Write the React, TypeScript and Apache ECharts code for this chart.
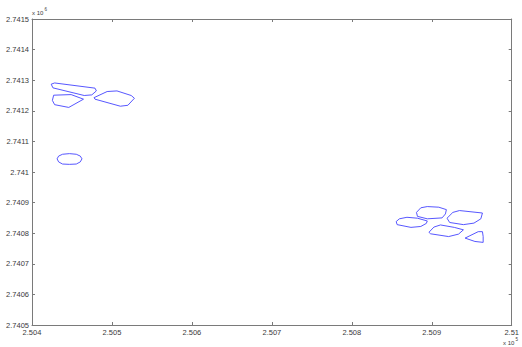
import React, { useEffect, useRef } from "react";
import * as echarts from "echarts";

// Axis ranges (x in units of 10^5, y in units of 10^6)
const xMin = 2.504;
const xMax = 2.51;
const xStep = 0.001;
const yMin = 2.7405;
const yMax = 2.7415;
const yStep = 0.0001;

const xTickLabels = ["2.504", "2.505", "2.506", "2.507", "2.508", "2.509", "2.51"];
const yTickLabels = [
  "2.7405", "2.7406", "2.7407", "2.7408", "2.7409", "2.741",
  "2.7411", "2.7412", "2.7413", "2.7414", "2.7415",
];

// Polygon outlines [x, y]
const polyA = [
  [2.50424, 2.741287], [2.504283, 2.741291], [2.504788, 2.741274], [2.504805, 2.741265],
  [2.504748, 2.741252], [2.504653, 2.74125], [2.504262, 2.741275], [2.50424, 2.741287],
];
const polyB = [
  [2.504271, 2.741251], [2.504489, 2.741253], [2.504644, 2.741238], [2.50446, 2.741211],
  [2.504283, 2.74122], [2.504255, 2.741234], [2.504271, 2.741251],
];
const polyC = [
  [2.504776, 2.741243], [2.50494, 2.741263], [2.505063, 2.741265], [2.505241, 2.74125],
  [2.505281, 2.741241], [2.505199, 2.741218], [2.505105, 2.741215], [2.504788, 2.741238],
  [2.504776, 2.741243],
];
const polyEll = [
  [2.504314, 2.741043], [2.504333, 2.741052], [2.504382, 2.741058], [2.504468, 2.74106],
  [2.504554, 2.741058], [2.504604, 2.741052], [2.504625, 2.741043], [2.504604, 2.741033],
  [2.504554, 2.741026], [2.504468, 2.741025], [2.504382, 2.741026], [2.504333, 2.741033],
  [2.504314, 2.741043],
];
const polyD = [
  [2.508555, 2.740838], [2.508595, 2.740847], [2.50869, 2.740852], [2.508821, 2.740849],
  [2.508944, 2.74084], [2.508932, 2.740832], [2.508863, 2.740822], [2.50874, 2.740819],
  [2.508567, 2.740828], [2.508555, 2.740838],
];
const polyE = [
  [2.508809, 2.740868], [2.508863, 2.740883], [2.508944, 2.740887], [2.509088, 2.740885],
  [2.509183, 2.740877], [2.509171, 2.740863], [2.509129, 2.74085], [2.508944, 2.740847],
  [2.508821, 2.740855], [2.508809, 2.740868],
];
const polyF = [
  [2.509191, 2.740849], [2.509264, 2.740868], [2.509347, 2.740874], [2.509634, 2.740866],
  [2.509614, 2.740847], [2.509528, 2.740833], [2.509396, 2.740828], [2.509224, 2.740835],
  [2.509191, 2.740849],
];
const polyG = [
  [2.508965, 2.740803], [2.509027, 2.74082], [2.509109, 2.740827], [2.509282, 2.740819],
  [2.509396, 2.740811], [2.509335, 2.740797], [2.509211, 2.740789], [2.508986, 2.740798],
  [2.508965, 2.740803],
];
const polyH = [
  [2.509417, 2.740784], [2.509581, 2.740805], [2.509634, 2.740805], [2.509643, 2.740789],
  [2.509643, 2.74077], [2.50954, 2.740773], [2.509417, 2.740784],
];

const polygons = [polyA, polyB, polyC, polyEll, polyD, polyE, polyF, polyG, polyH];

const FONT = "Liberation Sans";
const AXIS_COLOR = "#7a7a7a";
const TEXT_COLOR = "#3a3a3a";
const LINE_COLOR = "#4444ff";

export default function App() {
  const ref = useRef<HTMLDivElement>(null);

  useEffect(() => {
    if (!ref.current) return;
    const chart = echarts.init(ref.current, undefined, { renderer: "svg" });

    const xFmt = (v: number) => xTickLabels[Math.round((v - xMin) / xStep)] ?? "";
    const yFmt = (v: number) => yTickLabels[Math.round((v - yMin) / yStep)] ?? "";

    const axisCommon = {
      type: "value" as const,
      axisLine: { show: true, lineStyle: { color: AXIS_COLOR, width: 1 } },
      axisTick: { show: true, inside: true, length: 3, lineStyle: { color: AXIS_COLOR } },
      splitLine: { show: false },
    };

    chart.setOption({
      animation: false,
      backgroundColor: "#ffffff",
      grid: { left: 32, right: 3, top: 19, bottom: 22, containLabel: false },
      xAxis: [
        {
          ...axisCommon,
          position: "bottom",
          min: xMin,
          max: xMax,
          interval: xStep,
          axisLabel: {
            show: true,
            margin: 3,
            color: TEXT_COLOR,
            fontFamily: FONT,
            fontSize: 7.5,
            formatter: xFmt,
            showMinLabel: true,
            showMaxLabel: true,
          },
        },
        {
          ...axisCommon,
          position: "top",
          min: xMin,
          max: xMax,
          interval: xStep,
          axisLabel: { show: false },
        },
      ],
      yAxis: [
        {
          ...axisCommon,
          position: "left",
          min: yMin,
          max: yMax,
          interval: yStep,
          axisLabel: {
            show: true,
            margin: 3,
            color: TEXT_COLOR,
            fontFamily: FONT,
            fontSize: 7.5,
            formatter: yFmt,
            showMinLabel: true,
            showMaxLabel: true,
          },
        },
        {
          ...axisCommon,
          position: "right",
          min: yMin,
          max: yMax,
          interval: yStep,
          axisLabel: { show: false },
        },
      ],
      series: polygons.map((p) => ({
        type: "line",
        xAxisIndex: 0,
        yAxisIndex: 0,
        data: p,
        symbol: "none",
        smooth: false,
        silent: true,
        lineStyle: { color: LINE_COLOR, width: 0.9 },
      })),
      graphic: [
        {
          type: "text",
          left: 32,
          top: 10,
          style: { text: "x 10", fill: TEXT_COLOR, font: `6px ${FONT}` },
        },
        {
          type: "text",
          left: 44.5,
          top: 6.5,
          style: { text: "6", fill: TEXT_COLOR, font: `4.5px ${FONT}` },
        },
        {
          type: "text",
          left: 503,
          top: 340,
          style: { text: "x 10", fill: TEXT_COLOR, font: `6px ${FONT}` },
        },
        {
          type: "text",
          left: 515.5,
          top: 337,
          style: { text: "5", fill: TEXT_COLOR, font: `4.5px ${FONT}` },
        },
      ],
    });

    return () => chart.dispose();
  }, []);

  return (
    <div
      ref={ref}
      style={{ position: "fixed", left: 0, top: 0, width: 522, height: 347, background: "#fff" }}
    />
  );
}
